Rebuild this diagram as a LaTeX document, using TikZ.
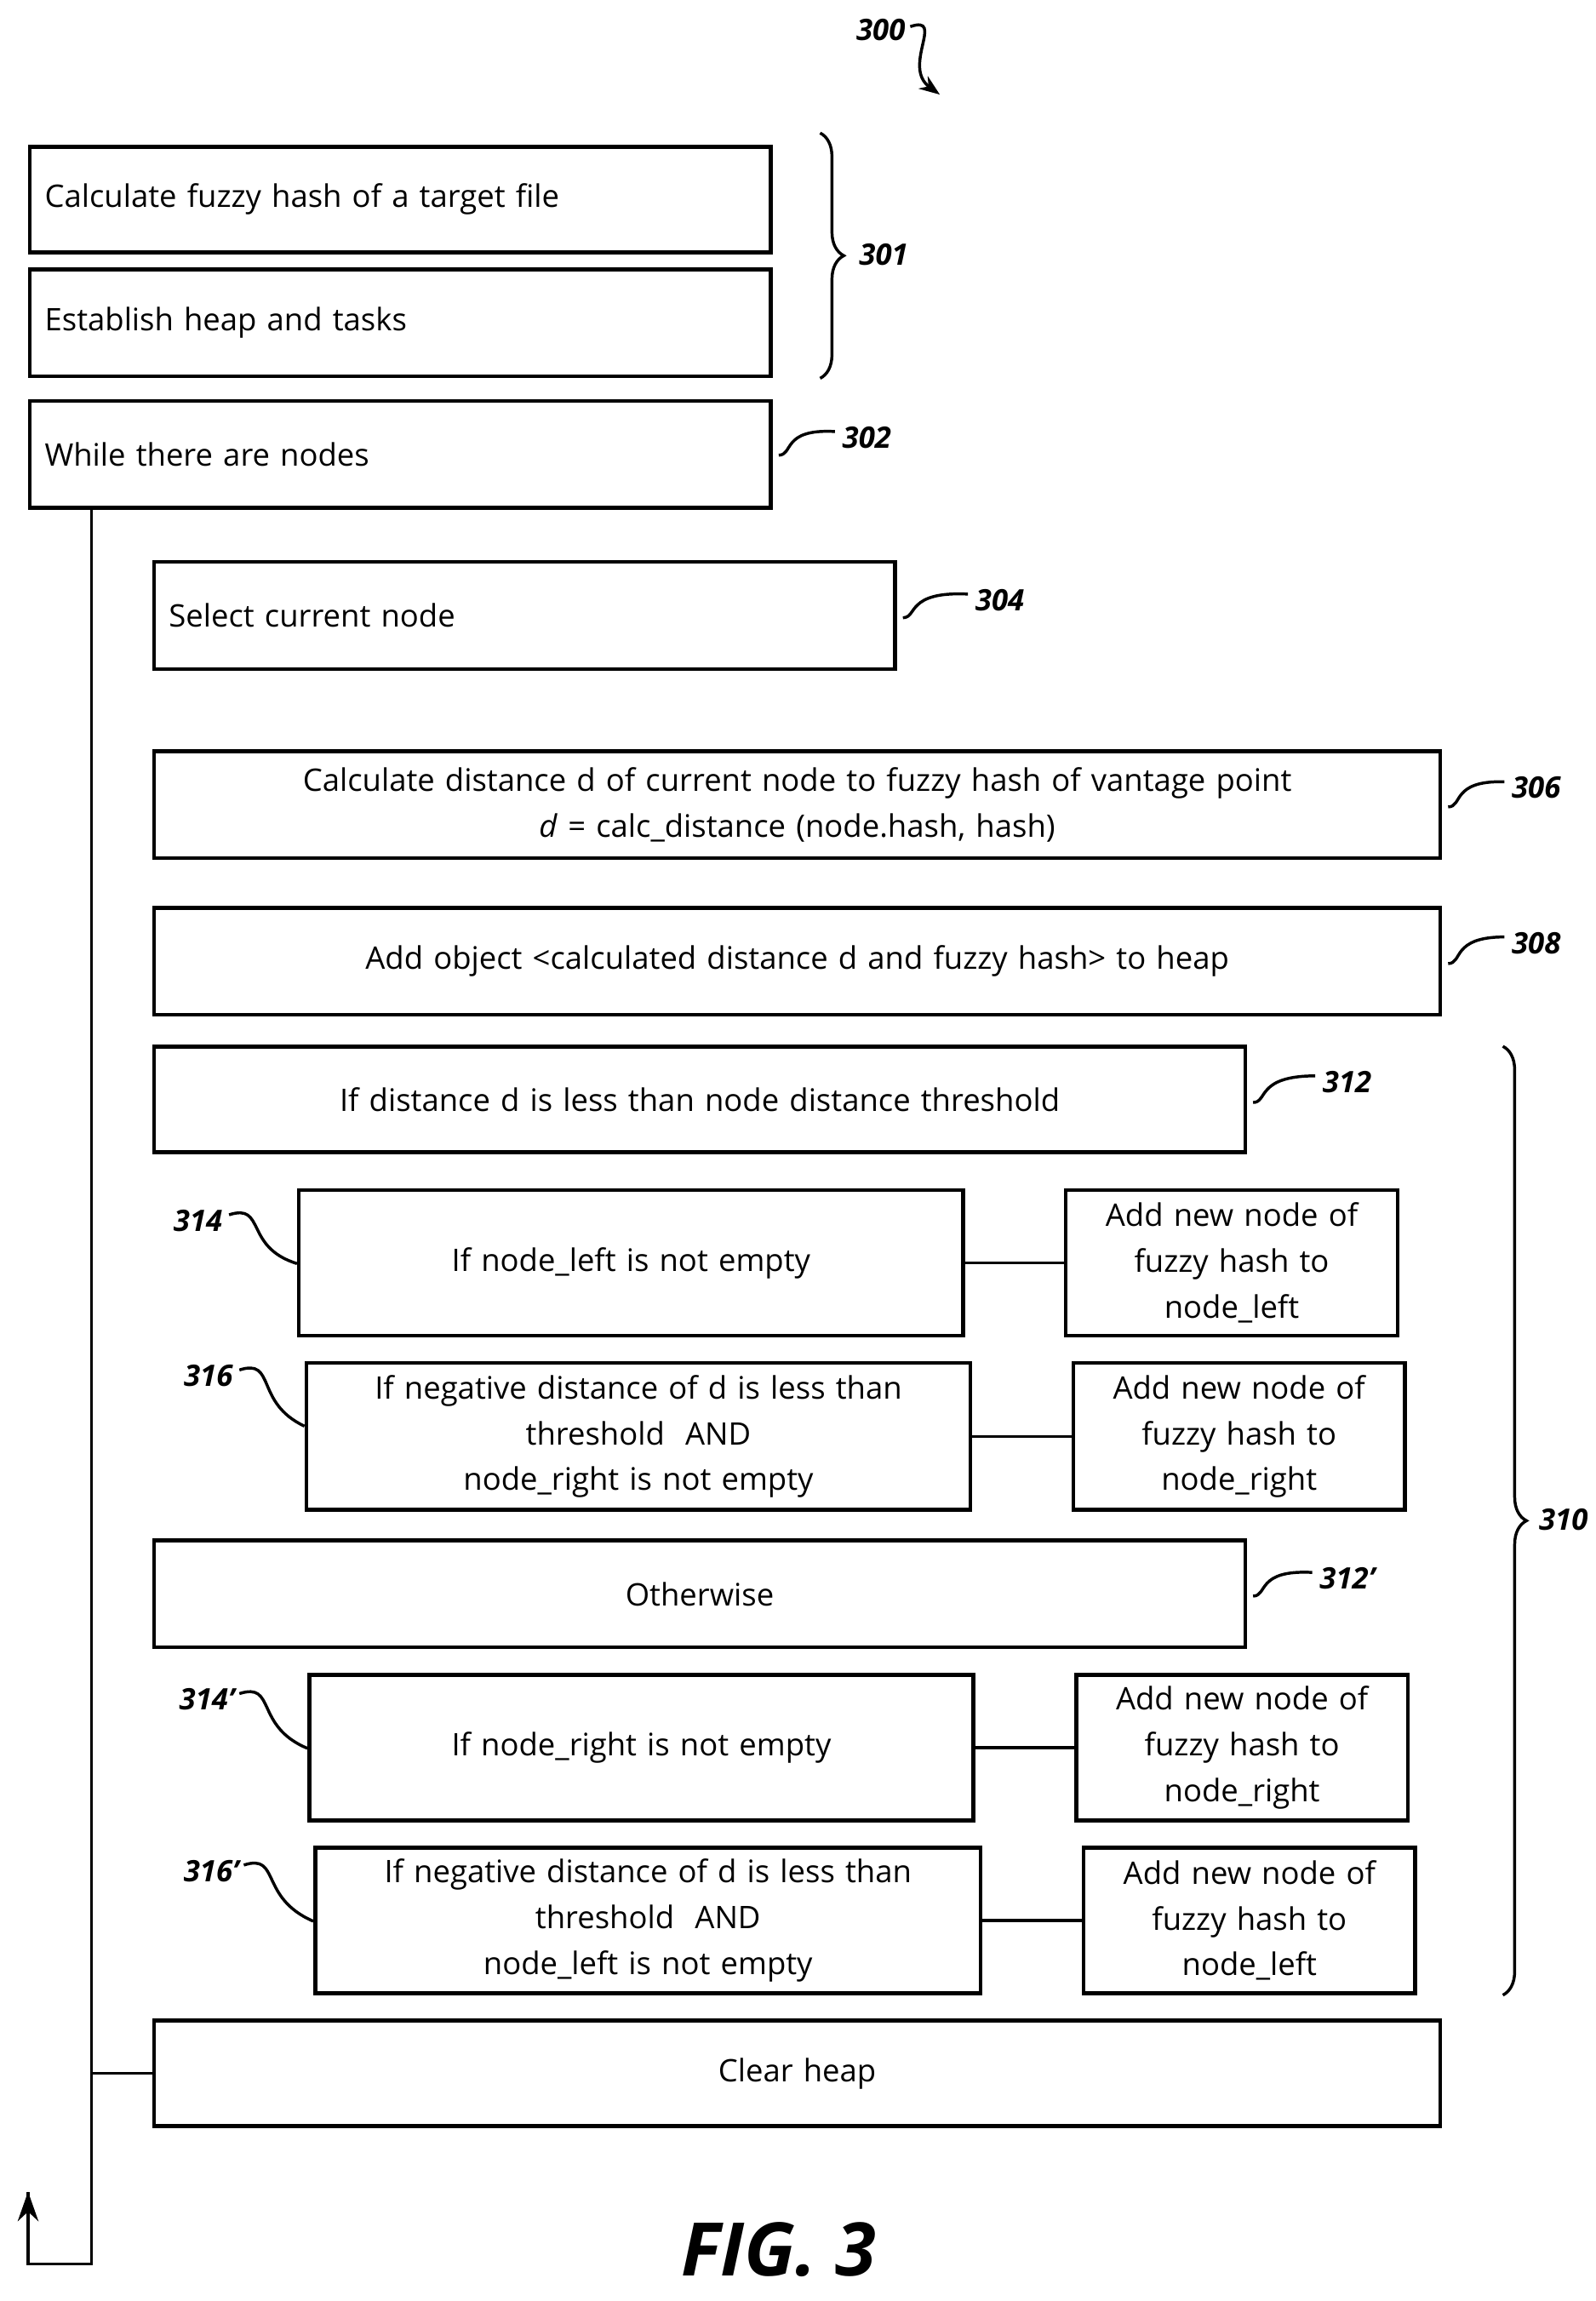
\documentclass[tikz,border=0pt]{standalone}
\usepackage{fontspec}
\setmainfont{Open Sans}
\usetikzlibrary{arrows.meta,decorations.pathreplacing}
\begin{document}
\begin{tikzpicture}[x=0.5pt,y=-0.5pt,
 box/.style={draw,line width=1.3pt,inner xsep=5pt,inner ysep=0pt,font=\fontsize{10.5}{15.5}\selectfont},
 L/.style={box,align=left},
 C/.style={box,align=center},
 lbl/.style={font=\fontsize{10}{12}\selectfont\bfseries\itshape},
 ln/.style={line width=1pt}]
\useasboundingbox (0,0) rectangle (1080,1557);
\newcommand\bx[7]{\node[#1,text width=#5pt-11.3pt,minimum height=#6pt-1.3pt] (#2) at (#3,#4) {#7};}
\bx{L}{a}{271}{135}{252}{37}{Calculate fuzzy hash of a target file}
\bx{L}{b}{271}{218.5}{252}{37.5}{Establish heap and tasks}
\bx{L}{c}{271}{307.5}{252}{37.5}{While there are nodes}
\bx{L}{d}{355}{416.5}{252}{37.5}{Select current node}
\bx{C}{e}{539.5}{544.5}{436.5}{37.5}{Calculate distance d of current node to fuzzy hash of vantage point\\\textit{d} = calc\_distance (node.hash, hash)}
\bx{C}{f}{539.5}{650.5}{436.5}{37.5}{Add object <calculated distance d and fuzzy hash> to heap}
\bx{C}{g}{473.5}{744}{370.5}{37}{If distance d is less than node distance threshold}
\bx{C}{h}{427}{854.5}{226}{50.5}{If node\_left is not empty}
\bx{C}{hr}{833.5}{854.5}{113.5}{50.5}{Add new node of\\fuzzy hash to\\node\_left}
\bx{C}{i}{432}{972}{226}{51}{If negative distance of d is less than\\threshold\ \ AND\\node\_right is not empty}
\bx{C}{ir}{838.5}{972}{113.5}{51}{Add new node of\\fuzzy hash to\\node\_right}
\bx{C}{j}{473.5}{1078.5}{370.5}{37.5}{Otherwise}
\bx{C}{k}{434}{1182.5}{226}{50.5}{If node\_right is not empty}
\bx{C}{kr}{840.5}{1182.5}{113.5}{50.5}{Add new node of\\fuzzy hash to\\node\_right}
\bx{C}{l}{438.5}{1299.5}{226.5}{50.5}{If negative distance of d is less than\\threshold\ \ AND\\node\_left is not empty}
\bx{C}{lr}{845.5}{1299.5}{113.5}{50.5}{Add new node of\\fuzzy hash to\\node\_left}
\bx{C}{m}{539.5}{1403}{436.5}{37}{Clear heap}
\draw[ln] (h) -- (hr); \draw[ln] (i) -- (ir); \draw[ln] (k) -- (kr); \draw[ln] (l) -- (lr);
\coordinate (p1) at (62,1532); \coordinate (p2) at (19,1532); \coordinate (p3) at (19,1483);
\draw[ln] (c.south west -| p1) -- (p1) -- (p2) -- (p3);
\draw[ln,-{Stealth[length=10pt,width=7pt]}] (19,1500) -- (p3);
\draw[ln] (m.west -| p1) -- (m.west);
% labels
\node[lbl] (n300) at (596,20) {300};
\draw[ln,-{Stealth[length=7pt]}] (616,18) .. controls (640,10) and (610,45) .. (636,64);
\node[lbl] (n301) at (598,172) {301};
\draw[ln,decorate,decoration={brace,amplitude=8pt}] (555,90) -- (555,256);
\node[lbl] (n310) at (1058,1028) {310};
\draw[ln,decorate,decoration={brace,amplitude=8pt}] (1017,708) -- (1017,1350);
\newcommand\mysq[4]{\draw[ln] (#1,#2) .. controls (#1+10,#2) and (#1+2,#2-18) .. (#3,#4);}
\node[lbl,anchor=west] (n302) at (563,296) {302}; \mysq{527}{308}{565}{292}
\node[lbl,anchor=west] (n304) at (653,406) {304}; \mysq{611}{418}{655}{402}
\node[lbl,anchor=west] (n306) at (1016,533) {306}; \mysq{980}{546}{1018}{529}
\node[lbl,anchor=west] (n308) at (1016,638) {308}; \mysq{980}{652}{1018}{634}
\node[lbl,anchor=west] (n312) at (888,732) {312}; \mysq{848}{746}{890}{728}
\node[lbl,anchor=west] (n312p) at (886,1068) {312'}; \mysq{848}{1080}{888}{1064}
\newcommand\mysl[4]{\draw[ln] (#1,#2) .. controls (#1+25,#2-8) and (#1+10,#2+22) .. (#3,#4);}
\node[lbl] (n314) at (134,826) {314}; \mysl{155}{822}{201}{855}
\node[lbl] (n316) at (141,931) {316}; \mysl{162}{927}{206}{965}
\node[lbl] (n314p) at (140,1150) {314'}; \mysl{162}{1146}{208}{1183}
\node[lbl] (n316p) at (143,1266) {316'}; \mysl{165}{1262}{212}{1300}
\node[font=\fontsize{25}{28}\selectfont\bfseries\itshape] (fig) at (527,1522) {FIG. 3};
\end{tikzpicture}
\end{document}
